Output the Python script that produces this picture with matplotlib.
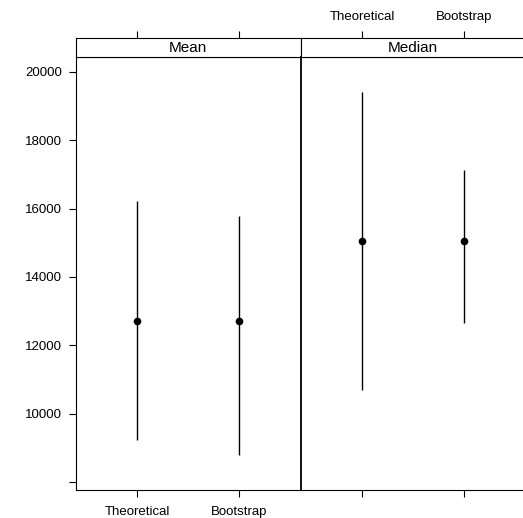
import matplotlib.pyplot as plt

plt.rcParams["font.family"] = ["Liberation Sans", "DejaVu Sans"]

statistics = ["Mean", "Median"]
methods = ["Theoretical", "Bootstrap"]
estimate = [[12710, 12710], [15050, 15050]]
lower = [[9230, 8790], [10690, 12665]]
upper = [[16225, 15775], [19405, 17120]]
y_ticks = [8000, 10000, 12000, 14000, 16000, 18000, 20000]
y_labels = ["", "10000", "12000", "14000", "16000", "18000", "20000"]

W, H = 523, 518
fig = plt.figure(figsize=(W / 100, H / 100), dpi=100)


def px_box(x0, y0, x1, y1):
    # pixel box (top-left origin) -> figure fraction
    return [x0 / W, 1 - y1 / H, (x1 - x0) / W, (y1 - y0) / H]


lw = 0.8
edges = [75.7, 300.7, 525.7]
for i, stat in enumerate(statistics):
    ax = fig.add_axes(px_box(edges[i], 56.7, edges[i + 1], 490))
    strip = fig.add_axes(px_box(edges[i], 37.7, edges[i + 1], 56.7), sharex=ax)

    xs = [1, 2]
    ax.vlines(xs, lower[i], upper[i], color="black", lw=1.0)
    ax.plot(xs, estimate[i], "o", color="black", ms=4.5)
    ax.set_xlim(0.4, 2.6)
    ax.set_ylim(7766, 20447)
    ax.set_xticks(xs)
    ax.set_xticklabels(methods)
    ax.set_yticks(y_ticks)
    ax.set_yticklabels(y_labels)
    ax.tick_params(axis="y", length=5.2, width=lw, labelsize=9.5, pad=4.5)
    ax.tick_params(axis="x", length=5.2, width=lw, labelsize=9.5, pad=6)
    if i == 1:
        ax.tick_params(left=False, labelleft=False, labelbottom=False)
    for s in ax.spines.values():
        s.set_linewidth(lw)
    if i == 1:
        ax.spines["left"].set_linewidth(1.3)

    strip.tick_params(left=False, labelleft=False, bottom=False, labelbottom=False,
                      top=True, length=5.2, width=lw, labelsize=9.5, pad=5.5)
    strip.set_yticks([])
    strip.tick_params(labeltop=(i == 1))
    strip.text(0.5, 0.45, stat, transform=strip.transAxes, ha="center", va="center",
               fontsize=11)
    for s in strip.spines.values():
        s.set_linewidth(lw)

fig.savefig("out.png", dpi=100)
